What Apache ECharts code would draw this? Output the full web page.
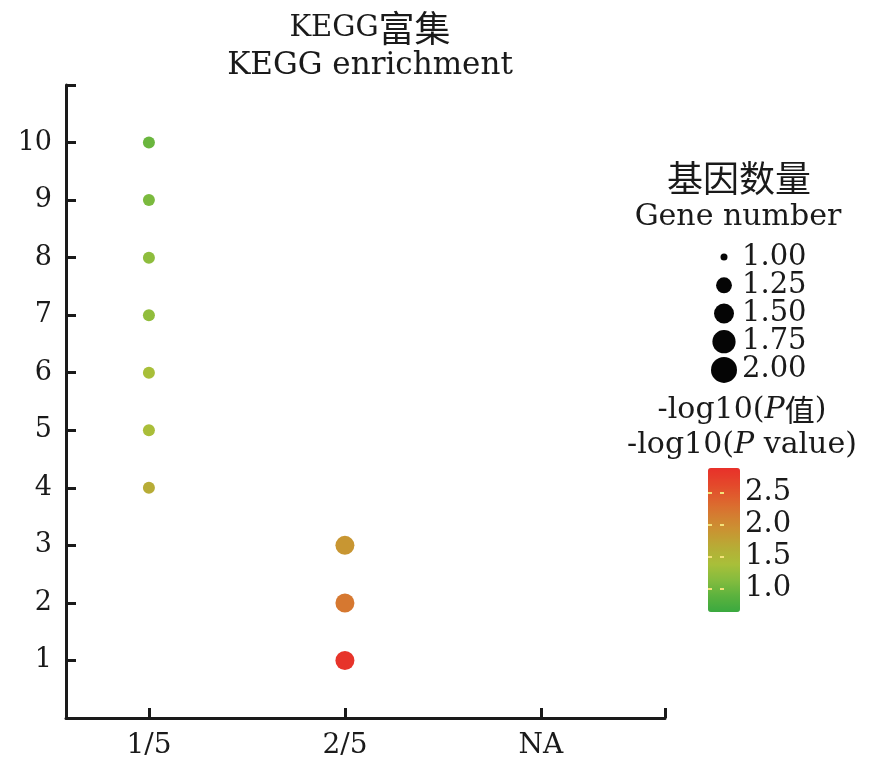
<!DOCTYPE html>
<html><head><meta charset="utf-8">
<script src="https://cdn.jsdelivr.net/npm/echarts@6/dist/echarts.min.js"></script>
<style>html,body{margin:0;padding:0;background:#fff}#c{width:890px;height:779px}</style>
</head><body><div id="c"></div>
<script>
// ---- data ----
const xCategories = ['1/5', '2/5', 'NA'];
const pathwayRank = [10, 9, 8, 7, 6, 5, 4, 3, 2, 1];
const geneRatio = ['1/5', '1/5', '1/5', '1/5', '1/5', '1/5', '1/5', '2/5', '2/5', '2/5'];
const geneNumber = [1, 1, 1, 1, 1, 1, 1, 2, 2, 2];
const negLog10P = [0.98, 1.08, 1.2, 1.22, 1.38, 1.40, 1.65, 1.89, 2.2, 2.85];
const yTickValues = [1, 2, 3, 4, 5, 6, 7, 8, 9, 10];
const sizeLegendValues = [1.00, 1.25, 1.50, 1.75, 2.00];
const colorbarTicks = [1.0, 1.5, 2.0, 2.5];
const colorbarRange = [0.64, 2.89];

// ---- layout / style ----
const INK = '#1a1a1a';
const SERIF = 'DejaVu Serif';
const CJK = 'Noto Sans CJK SC';
const X_MIN = 0.577, X_MAX = 3.633;
const LEGEND_LABEL_GAP = 18; // from dot centre to label start
const mainSize = g => 12 + (g - 1) * 7;
const legendSize = v => 7 + 19 * Math.pow(v - 1, 0.55);

const chart = echarts.init(document.getElementById('c'), null, {renderer: 'canvas'});

const mainData = pathwayRank.map((r, i) => [xCategories.indexOf(geneRatio[i]) + 1, r, negLog10P[i], geneNumber[i]]);
const sizeLegendData = sizeLegendValues.map(v => ({
  value: [0, v],
  label: {distance: LEGEND_LABEL_GAP - legendSize(v) / 2}
}));

const option = {
  backgroundColor: '#fff',
  animation: false,
  grid: [
    {left: 66, top: 85, width: 599, height: 633},
    {left: 710, top: 243, width: 28, height: 141},
    {left: 708, top: 468, width: 32, height: 144}
  ],
  xAxis: [
    {
      gridIndex: 0, type: 'value', min: X_MIN, max: X_MAX,
      splitLine: {show: false},
      axisLine: {show: true, lineStyle: {color: INK, width: 3}},
      axisTick: {show: true, inside: true, length: 10, lineStyle: {color: INK, width: 3},
                 customValues: [1, 2, 3, X_MAX]},
      axisLabel: {show: true, customValues: [1, 2, 3], margin: 14, color: INK,
                  fontFamily: SERIF, fontSize: 28,
                  formatter: v => xCategories[Math.round(v) - 1]}
    },
    {gridIndex: 1, type: 'value', min: -1, max: 1, show: false},
    {gridIndex: 2, type: 'value', min: -1, max: 1, show: false}
  ],
  yAxis: [
    {
      gridIndex: 0, type: 'value', min: 0, max: 11, interval: 1,
      splitLine: {show: false},
      axisLine: {show: true, lineStyle: {color: INK, width: 3}},
      axisTick: {show: true, inside: true, length: 10, lineStyle: {color: INK, width: 3}},
      axisLabel: {show: true, margin: 14, color: INK, fontFamily: SERIF, fontSize: 27,
                  formatter: v => (yTickValues.indexOf(v) >= 0 ? String(v) : '')}
    },
    {
      gridIndex: 1, type: 'value', inverse: true, min: 0.875, max: 2.125, show: false
    },
    {
      gridIndex: 2, type: 'value', min: colorbarRange[0], max: colorbarRange[1], position: 'right',
      z: 20, zlevel: 0,
      splitLine: {show: false}, axisLine: {show: false},
      axisTick: {show: true, inside: true, length: 4, customValues: colorbarTicks,
                 lineStyle: {color: '#f3e27a', width: 2}},
      axisLabel: {show: true, customValues: colorbarTicks, margin: 5, color: INK,
                  fontFamily: SERIF, fontSize: 29, lineHeight: 28, hideOverlap: false,
                  showMinLabel: true, showMaxLabel: true, formatter: v => v.toFixed(1)}
    },
    {
      gridIndex: 2, type: 'value', min: colorbarRange[0], max: colorbarRange[1], position: 'left',
      z: 20,
      splitLine: {show: false}, axisLine: {show: false},
      axisTick: {show: true, inside: true, length: 4, customValues: colorbarTicks,
                 lineStyle: {color: '#f3e27a', width: 2}},
      axisLabel: {show: false}
    }
  ],
  visualMap: {
    type: 'continuous', seriesIndex: 0, dimension: 2, z: 1,
    min: colorbarRange[0], max: colorbarRange[1],
    orient: 'vertical', left: 708, top: 468, padding: 0,
    itemWidth: 32, itemHeight: 144, calculable: false, text: null, showLabel: false,
    hoverLink: false,
    inRange: {color: ['#3aa93f', '#5bb23e', '#85bc3e', '#a9bf39', '#b6ad36', '#c89632', '#d47e31', '#de632e', '#e4472b', '#e8302a']}
  },
  series: [
    {
      type: 'scatter', xAxisIndex: 0, yAxisIndex: 0, data: mainData,
      symbolSize: d => mainSize(d[3]), itemStyle: {opacity: 1}
    },
    {
      type: 'scatter', xAxisIndex: 1, yAxisIndex: 1,
      data: sizeLegendData,
      symbolSize: d => legendSize(d[1]), itemStyle: {color: '#050505', opacity: 1},
      label: {show: true, position: 'right', color: INK, fontFamily: SERIF, fontSize: 29,
              formatter: p => p.value[1].toFixed(2)},
      labelLayout: {hideOverlap: false}
    },
    {type: 'scatter', xAxisIndex: 2, yAxisIndex: 2, data: []}
  ],
  graphic: [
    {type: 'text', x: 370, y: 28, style: {text: '{a|KEGG}{b|富集}', align: 'center', verticalAlign: 'middle',
      rich: {a: {fontFamily: SERIF, fontSize: 29, fill: INK}, b: {fontFamily: CJK, fontSize: 36, fill: INK}}}},
    {type: 'text', x: 370, y: 66, style: {text: 'KEGG enrichment', align: 'center', verticalAlign: 'middle',
      fontFamily: SERIF, fontSize: 31, fill: INK}},
    {type: 'text', x: 739, y: 178, style: {text: '基因数量', align: 'center', verticalAlign: 'middle',
      fontFamily: CJK, fontSize: 36, fill: INK}},
    {type: 'text', x: 738, y: 217, style: {text: 'Gene number', align: 'center', verticalAlign: 'middle',
      fontFamily: SERIF, fontSize: 30, fill: INK}},
    {type: 'text', x: 742, y: 410, style: {text: '-log10({i|P}{c|值})', align: 'center', verticalAlign: 'middle',
      fontFamily: SERIF, fontSize: 30, fill: INK,
      rich: {i: {fontFamily: SERIF, fontStyle: 'italic', fontSize: 30, fill: INK},
             c: {fontFamily: CJK, fontSize: 30, fill: INK}}}},
    {type: 'text', x: 742, y: 445, style: {text: '-log10({i|P} value)', align: 'center', verticalAlign: 'middle',
      fontFamily: SERIF, fontSize: 30, fill: INK,
      rich: {i: {fontFamily: SERIF, fontStyle: 'italic', fontSize: 30, fill: INK}}}}
  ]
};
chart.setOption(option);
</script>
</body></html>
